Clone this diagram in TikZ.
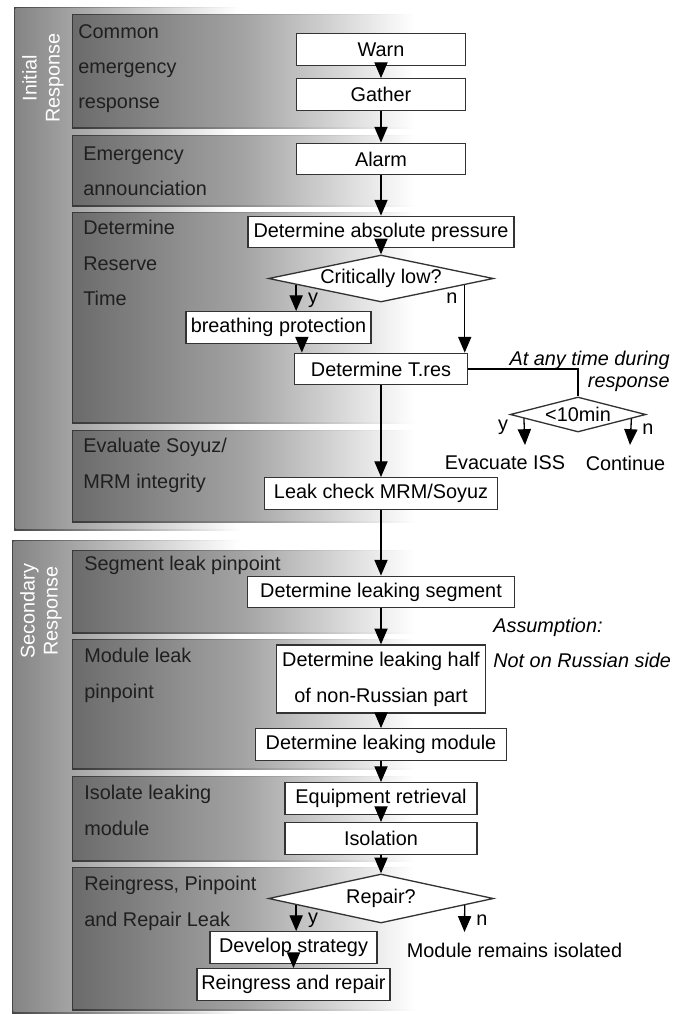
\documentclass[tikz,border=0pt]{standalone}
\usepackage{fontspec}
\setmainfont{Liberation Sans}
\usetikzlibrary{shapes.geometric,arrows.meta,calc}
\begin{document}
\begin{tikzpicture}[x=0.02cm,y=-0.02cm,
    font=\fontsize{11.3}{13.5}\selectfont,
    stepbox/.style={draw=black!80,fill=white,line width=0.75pt,inner sep=1pt,minimum height=0.63cm},
    askbox/.style={diamond,draw=black!80,fill=white,line width=0.75pt,inner sep=0pt,aspect=4.8},
    flow/.style={line width=0.75pt,-{Triangle[width=7.5pt,length=9pt]}},
    stage/.style={anchor=north west,align=left,text=black!88,inner sep=0pt,font=\fontsize{11.3}{20.1}\selectfont},
    phase/.style={rotate=90,align=center,text=white,font=\fontsize{11.3}{13}\selectfont},
    note/.style={inner sep=0pt,font=\itshape\fontsize{11.3}{12.5}\selectfont}]
    \useasboundingbox (0,0) rectangle (685,1014);
    \shade[left color=black!72,right color=white] (14,7) rectangle (240,530);
    \shade[left color=black!48,right color=white] (15.5,8.5) rectangle (238.5,528.5);
    \shade[left color=black!72,right color=white] (12,540) rectangle (240,1013);
    \shade[left color=black!48,right color=white] (13.5,541.5) rectangle (238.5,1011.5);
    \foreach \t/\b in {14/128,135/206,212/423,430/522,550/633,639/769,776/861,867/1010}{
        \shade[left color=black!78,right color=white,middle color=black!45] (72,\t) rectangle (415,\b);
        \shade[left color=black!58,right color=white,middle color=black!36] (73.2,\t+1.2) rectangle (413.8,\b-1.2);
    }
    \node[phase] (initial) at (43,78) {Initial\\Response};
    \node[phase] (secondary) at (41,611) {Secondary\\Response};
    \node[stage] (common) at (78,24) {Common\\emergency\\response};
    \node[stage] (announce) at (83,146) {Emergency\\announciation};
    \node[stage] (reserve) at (83,220) {Determine\\Reserve\\Time};
    \node[stage] (integrity) at (83,438) {Evaluate Soyuz/\\MRM integrity};
    \node[stage] (segpin) at (84,556) {Segment leak pinpoint};
    \node[stage] (modpin) at (84,648) {Module leak\\pinpoint};
    \node[stage] (isolate) at (84,785) {Isolate leaking\\module};
    \node[stage] (reingress) at (84,876) {Reingress, Pinpoint\\and Repair Leak};

    \node[stepbox,minimum width=3.38cm] (warn) at (381,49.5) {Warn};
    \node[stepbox,minimum width=3.38cm] (gather) at (381,94.5) {Gather};
    \node[stepbox,minimum width=3.38cm] (alarm) at (381,159) {Alarm};
    \node[stepbox,minimum width=5.32cm] (abs) at (381,232) {Determine absolute pressure};
    \node[askbox,minimum width=4.5cm,minimum height=0.94cm] (crit) at (381,278.5) {Critically low?};
    \node[stepbox,minimum width=3.7cm] (brth) at (278.5,327.5) {breathing protection};
    \node[stepbox,minimum width=3.46cm] (tres) at (381,369) {Determine T.res};
    \node[askbox,minimum width=2.68cm,minimum height=0.7cm] (tmin) at (578,414.5) {<10min};
    \node (evac) at (505,463) {Evacuate ISS};
    \node (cont) at (625.5,463) {Continue};
    \node[note,align=right,anchor=east] (anytime) at (670,371) {At any time during\\response};
    \node[stepbox,minimum width=4.66cm] (leak) at (381,493.5) {Leak check MRM/Soyuz};
    \node[stepbox,minimum width=5.34cm] (seg) at (381,592) {Determine leaking segment};
    \node[stepbox,minimum width=4.18cm,minimum height=1.36cm,align=center,font=\fontsize{11.3}{20.4}\selectfont] (half) at (381,679) {Determine leaking half\\of non-Russian part};
    \node[note,align=left,anchor=west,font=\itshape\fontsize{11.3}{20}\selectfont] (assume) at (493,642.5) {Assumption:\\Not on Russian side};
    \node[stepbox,minimum width=5.02cm] (mod) at (381,744.5) {Determine leaking module};
    \node[stepbox,minimum width=3.84cm] (equip) at (381,798.5) {Equipment retrieval};
    \node[stepbox,minimum width=3.84cm] (iso) at (381,838.5) {Isolation};
    \node[askbox,minimum width=4.5cm,minimum height=0.98cm] (rep) at (381,898.5) {Repair?};
    \node[stepbox,minimum width=3.34cm] (dev) at (293.5,947.5) {Develop strategy};
    \node[stepbox,minimum width=3.86cm] (rein) at (293.5,984.5) {Reingress and repair};
    \node (remain) at (514.5,950) {Module remains isolated};

    \coordinate (cy) at ($(crit.west)!0.25!(crit.south)$);
    \coordinate (cn) at ($(crit.east)!0.26!(crit.south)$);
    \coordinate (bt) at ([xshift=0.16cm]tres.north west);
    \coordinate (ty) at ($(tmin.west)!0.21!(tmin.south)$);
    \coordinate (tn) at ($(tmin.east)!0.22!(tmin.south)$);
    \coordinate (ry) at ($(rep.west)!0.25!(rep.south)$);
    \coordinate (rn) at ($(rep.east)!0.26!(rep.south)$);
    \coordinate (evacend) at (525,445);
    \coordinate (contend) at (630,445);
    \coordinate (remainend) at (464.5,932);

    \draw[flow] (warn.south) -- (gather.north);
    \draw[flow] (gather.south) -- (alarm.north);
    \draw[flow] (alarm.south) -- (abs.north);
    \draw[flow] (abs.south) -- (crit.north);
    \draw[flow] (cy) -- (cy |- brth.north);
    \draw[flow] (cn) -- (cn |- tres.north);
    \draw[flow] (bt |- brth.south) -- (bt);
    \draw[line width=0.75pt] (tres.east) -| (tmin.north);
    \draw[flow] (ty) -- (evacend);
    \draw[flow] (tn) -- (contend);
    \draw[flow] (tres.south) -- (leak.north);
    \draw[flow] (leak.south) -- (seg.north);
    \draw[flow] (seg.south) -- (half.north);
    \draw[flow] (half.south) -- (mod.north);
    \draw[flow] (mod.south) -- (equip.north);
    \draw[flow] (equip.south) -- (iso.north);
    \draw[flow] (iso.south) -- (rep.north);
    \draw[flow] (ry) -- (ry |- dev.north);
    \draw[flow] (rn) -- (remainend);
    \draw[flow] (dev.south) -- (rein.north);

    \node (cylab) at (313,300) {y};
    \node (cnlab) at (452,298) {n};
    \node (tylab) at (503,427) {y};
    \node (tnlab) at (648,429) {n};
    \node (rylab) at (313,920) {y};
    \node (rnlab) at (482,920) {n};
\end{tikzpicture}
\end{document}
